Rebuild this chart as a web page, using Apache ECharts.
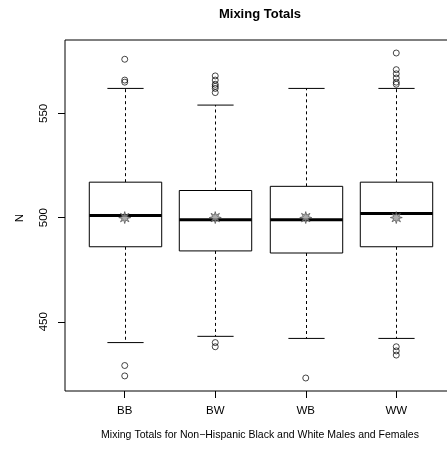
<!DOCTYPE html>
<html>
<head>
<meta charset="utf-8">
<script src="https://cdn.jsdelivr.net/npm/echarts@6/dist/echarts.min.js"></script>
<style>html,body{margin:0;padding:0;background:#fff;}#c{width:447px;height:449px;}</style>
</head>
<body>
<div id="c"></div>
<script>
// ---- data ----
const categories = ['BB', 'BW', 'WB', 'WW'];
const lowerWhisker = [440, 443, 442, 442];
const q1 = [486, 484, 483, 486];
const median = [501, 499, 499, 502];
const q3 = [517, 513, 515, 517];
const upperWhisker = [562, 554, 562, 562];
const means = [500, 500, 500, 500];
const outliersBB = [576, 566, 565, 429, 424];
const outliersBW = [568, 566, 564, 563, 562, 560, 440, 438];
const outliersWB = [423];
const outliersWW = [579, 571, 569, 567, 565, 564, 438, 436, 434];
const yTicks = [450, 500, 550];
const xTicks = [1, 2, 3, 4];

const outlierGroups = [outliersBB, outliersBW, outliersWB, outliersWW];

// ---- derived tables ----
const boxData = categories.map((c, i) => [i + 1, lowerWhisker[i], q1[i], median[i], q3[i], upperWhisker[i]]);
const outlierData = [];
outlierGroups.forEach((g, i) => g.forEach(v => outlierData.push([i + 1, v])));
const meanData = means.map((m, i) => [i + 1, m]);

// R-style axis ranges (4% extension)
let allVals = [];
outlierGroups.forEach(g => allVals = allVals.concat(g));
allVals = allVals.concat(lowerWhisker, upperWhisker);
const dMin = Math.min(...allVals), dMax = Math.max(...allVals);
const ext = (dMax - dMin) * 0.04;
const yMin = dMin - ext, yMax = dMax + ext;
const xMin = 0.5 - 0.16, xMax = categories.length + 0.5 + 0.16;

// 8-point star path
function starPath() {
  let d = '';
  const n = 8;
  for (let k = 0; k < n * 2; k++) {
    const r = (k % 2 === 0) ? 10 : 4.5;
    const a = Math.PI * k / n - Math.PI / 2;
    const x = (10 + r * Math.cos(a)).toFixed(2), y = (10 + r * Math.sin(a)).toFixed(2);
    d += (k === 0 ? 'M' : 'L') + x + ' ' + y + ' ';
  }
  return 'path://' + d + 'Z';
}

const chart = echarts.init(document.getElementById('c'), null, {renderer: 'canvas'});
const FONT = 'Liberation Sans, Arial, Helvetica, sans-serif';

chart.setOption({
  animation: false,
  backgroundColor: '#fff',
  grid: {left: 65, top: 40, width: 391, height: 351, outerBoundsMode: 'none', containLabel: false, show: true, borderColor: '#000', borderWidth: 1, backgroundColor: 'transparent'},
  xAxis: {
    type: 'value', min: xMin, max: xMax,
    splitLine: {show: false},
    axisLine: {show: false},
    axisTick: {show: true, customValues: xTicks, length: 7, inside: false, lineStyle: {color: '#000', width: 1}},
    axisLabel: {customValues: xTicks, formatter: v => categories[Math.round(v) - 1], margin: 14, color: '#000', fontSize: 11.5, fontFamily: FONT}
  },
  yAxis: {
    type: 'value', min: yMin, max: yMax,
    splitLine: {show: false},
    axisLine: {show: false},
    axisTick: {show: true, customValues: yTicks, length: 7, lineStyle: {color: '#000', width: 1}},
    axisLabel: {customValues: yTicks, rotate: 90, margin: 15, color: '#000', fontSize: 11.5, fontFamily: FONT}
  },
  graphic: [
    {type: 'text', x: 260, y: 14, style: {text: 'Mixing Totals', font: 'bold 13px ' + FONT, fill: '#000', textAlign: 'center', textVerticalAlign: 'middle'}},
    {type: 'text', x: 260, y: 435, style: {text: 'Mixing Totals for Non\u2212Hispanic Black and White Males and Females', font: '10.5px ' + FONT, fill: '#000', textAlign: 'center', textVerticalAlign: 'middle'}},
    {type: 'text', x: 20, y: 218, rotation: Math.PI / 2, style: {text: 'N', font: '11.5px ' + FONT, fill: '#000', textAlign: 'center', textVerticalAlign: 'middle'}}
  ],
  series: [
    {
      type: 'custom',
      data: boxData,
      encode: {x: 0, y: [1, 2, 3, 4, 5]},
      renderItem: function (params, api) {
        const x = api.value(0);
        const pLow = api.coord([x, api.value(1)]);
        const pQ1 = api.coord([x, api.value(2)]);
        const pMed = api.coord([x, api.value(3)]);
        const pQ3 = api.coord([x, api.value(4)]);
        const pHigh = api.coord([x, api.value(5)]);
        const hw = api.size([0.4, 0])[0];
        const cw = hw / 2;
        const cx = Math.round(pMed[0]) + 0.5;
        const solid = {stroke: '#000', lineWidth: 1, fill: null};
        return {
          type: 'group',
          children: [
            {type: 'line', shape: {x1: cx, y1: pQ3[1], x2: cx, y2: pHigh[1]}, style: {stroke: '#000', lineWidth: 1, lineDash: [3, 3]}},
            {type: 'line', shape: {x1: cx, y1: pQ1[1], x2: cx, y2: pLow[1]}, style: {stroke: '#000', lineWidth: 1, lineDash: [3, 3]}},
            {type: 'line', shape: {x1: cx - cw, y1: pHigh[1], x2: cx + cw, y2: pHigh[1]}, style: solid},
            {type: 'line', shape: {x1: cx - cw, y1: pLow[1], x2: cx + cw, y2: pLow[1]}, style: solid},
            {type: 'rect', shape: {x: cx - hw, y: pQ3[1], width: 2 * hw, height: pQ1[1] - pQ3[1]}, style: {fill: '#fff', stroke: '#000', lineWidth: 1}},
            {type: 'line', shape: {x1: cx - hw, y1: pMed[1], x2: cx + hw, y2: pMed[1]}, style: {stroke: '#000', lineWidth: 3}}
          ]
        };
      }
    },
    {
      type: 'scatter',
      data: outlierData,
      symbol: 'circle',
      symbolSize: 6,
      itemStyle: {color: 'rgba(255,255,255,0)', borderColor: '#000', borderWidth: 0.9},
      z: 3
    },
    {
      type: 'scatter',
      data: meanData,
      symbol: starPath(),
      symbolSize: 12,
      itemStyle: {color: '#999', borderColor: '#444', borderWidth: 0.8},
      z: 4
    }
  ]
});
</script>
</body>
</html>
